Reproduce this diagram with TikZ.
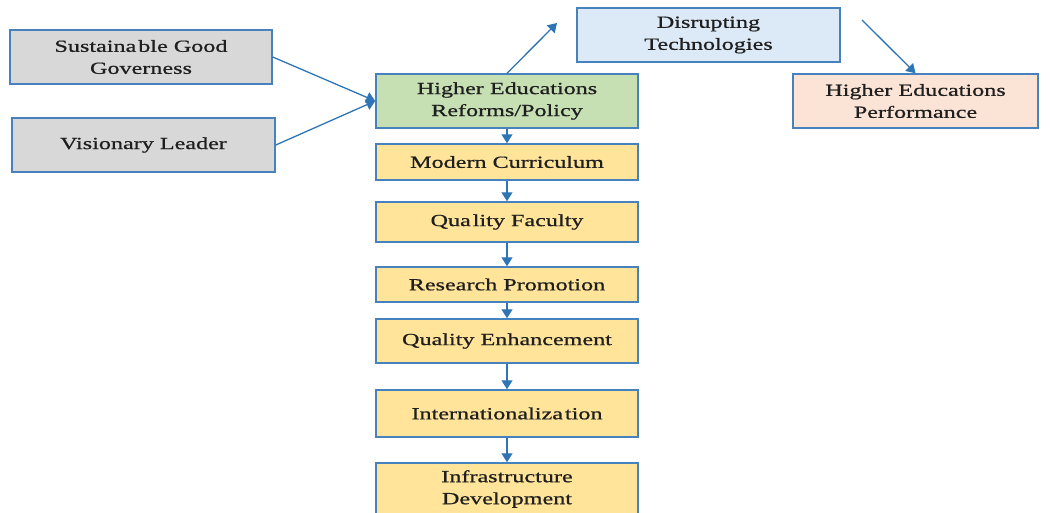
\documentclass[tikz,border=0pt]{standalone}
\usepackage{fontspec}
\setmainfont{Liberation Serif}[FakeStretch=1.42, FakeBold=0.8]
\usepackage{xcolor}
\usepackage{tikz}
\usetikzlibrary{arrows.meta,shapes,positioning}
\definecolor{edgeblue}{RGB}{72,130,190}
\definecolor{arrowblue}{RGB}{46,117,182}
\definecolor{govgray}{RGB}{216,216,216}
\definecolor{reformgreen}{RGB}{198,224,180}
\definecolor{techblue}{RGB}{220,233,246}
\definecolor{perfpeach}{RGB}{251,228,214}
\definecolor{stepyellow}{RGB}{255,228,153}

\begin{document}
\begin{tikzpicture}[x=1pt, y=-1pt,
    box/.style={rectangle, draw=edgeblue, line width=1.5pt, minimum width=262pt, minimum height=54pt, align=center, inner sep=2pt, text=black!88, font=\fontsize{17}{22}\selectfont},
    stepbox/.style={box, fill=stepyellow},
    arrow/.style={-{Triangle[length=9pt, width=11pt]}, draw=arrowblue, line width=1.3pt}
]
    \useasboundingbox (0,0) rectangle (1052,512);

    \node[box, fill=govgray] (gov) at (141,57) {Sustaina\hspace{2pt}ble Good\\Governess};
    \node[box, fill=govgray, minimum width=263pt] (leader) at (143.5,145) {Visionary Leader};
    \node[box, fill=reformgreen] (reform) at (507,101) {Higher Educations\\Reforms/Policy};
    \node[box, fill=techblue, minimum width=263pt] (tech) at (708.5,35) {Disrupting\\Technologies};
    \node[box, fill=perfpeach, minimum width=245pt] (perf) at (915.5,101) {Higher Educations\\Performance};

    % chain of reform areas
    \node[stepbox, minimum height=36pt] (curr) at (507,162) {Modern Curriculum};
    \node[stepbox, minimum height=40pt] (faculty) at (507,222) {Qua\hspace{2pt}lity Faculty};
    \node[stepbox, minimum height=35pt] (research) at (507,284.5) {Research Promotion};
    \node[stepbox, minimum height=44pt] (enhance) at (507,341) {Quality Enhancement};
    \node[stepbox, minimum height=47pt] (intl) at (507,413.5) {Internationaliza\hspace{2pt}tion};
    \node[stepbox, minimum height=52pt] (infra) at (507,489) {Infrastructure\\Development};

    \coordinate (techin) at (557,23);
    \coordinate (techout) at (862,20);

    \draw[arrow] (gov.east) -- (reform.west);
    \draw[arrow] (leader.east) -- (reform.west);
    \draw[arrow] (reform.north) -- (techin);
    \draw[arrow] (techout) -- (perf.north);

    \foreach \a/\b in {reform/curr, curr/faculty, faculty/research, research/enhance, enhance/intl, intl/infra}
        \draw[arrow] (\a.south) -- (\b.north);
\end{tikzpicture}
\end{document}
